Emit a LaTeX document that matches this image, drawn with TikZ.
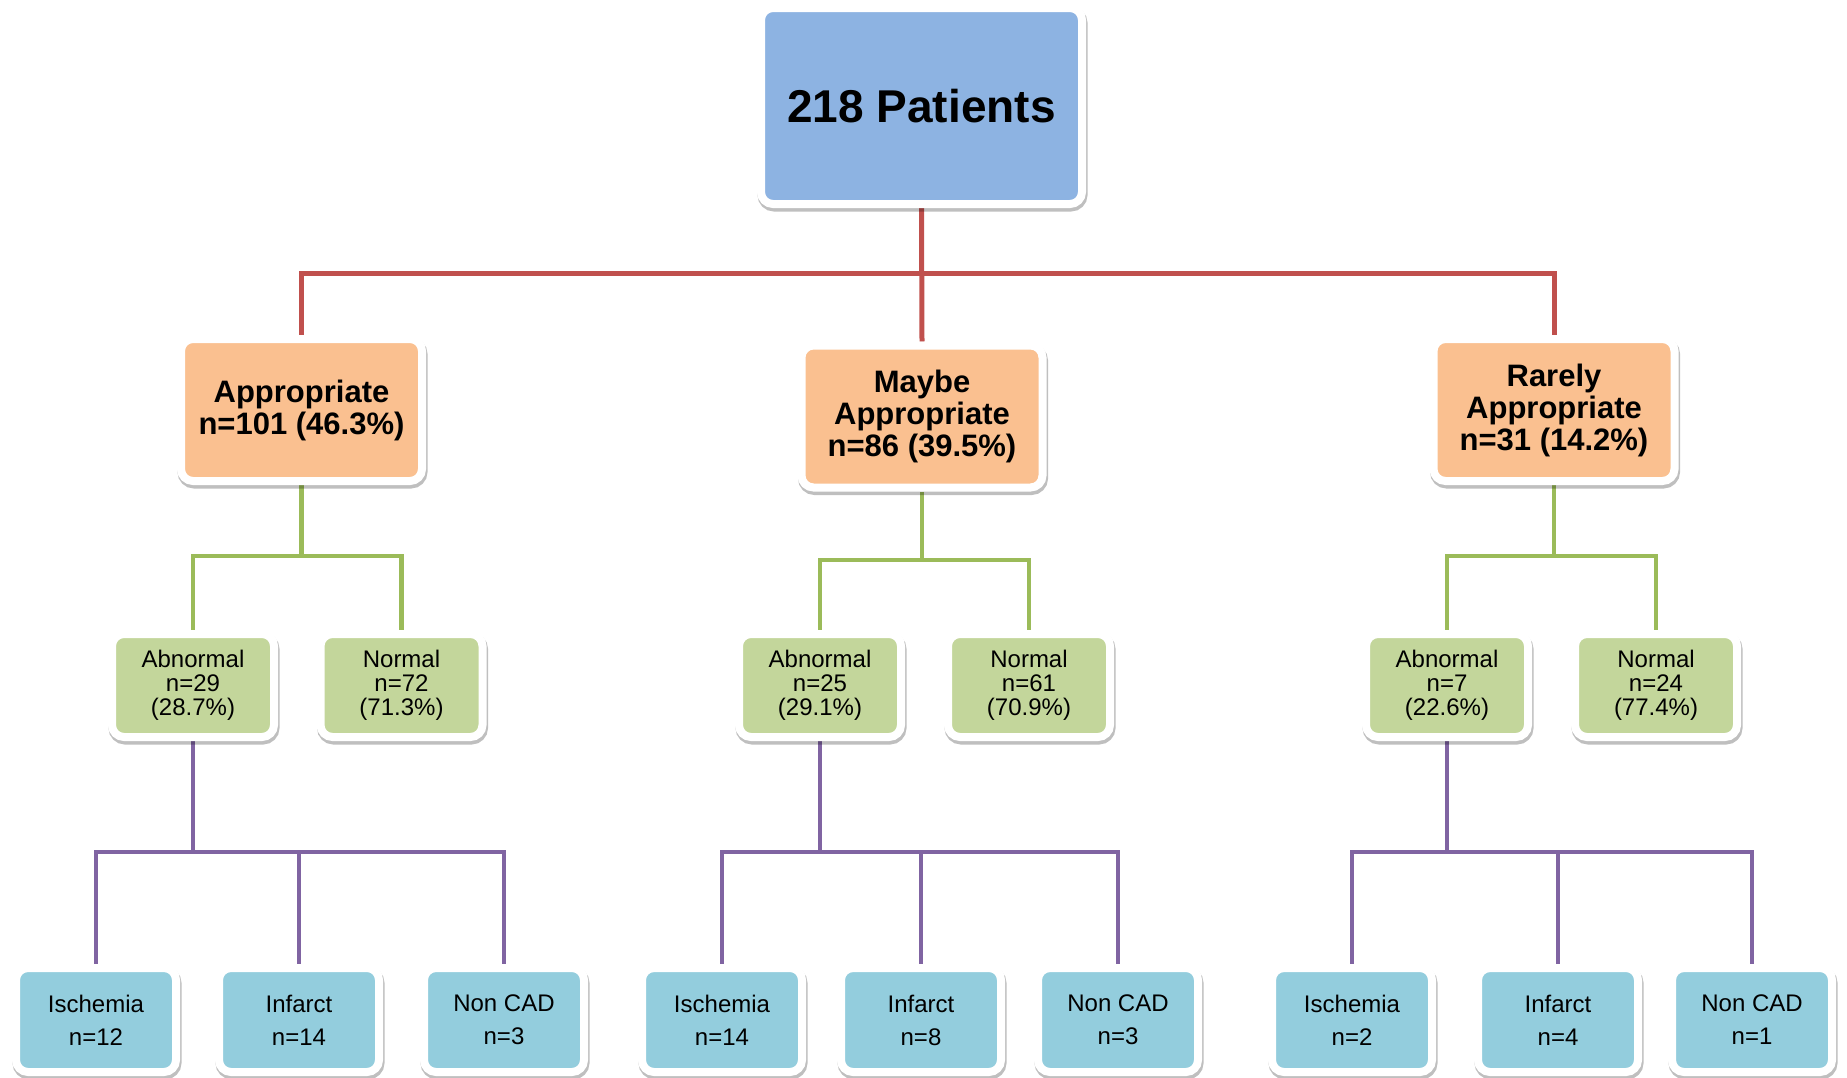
\documentclass[tikz,border=0pt]{standalone}
\usepackage{fontspec}
\setmainfont{Liberation Sans}
\usetikzlibrary{shadows,backgrounds}
\definecolor{topblue}{HTML}{8DB3E2}
\definecolor{orangefill}{HTML}{FAC090}
\definecolor{greenfill}{HTML}{C3D69B}
\definecolor{cyanfill}{HTML}{93CDDD}
\definecolor{redline}{HTML}{C0504D}
\definecolor{greenline}{HTML}{9BBB59}
\definecolor{purpleline}{HTML}{8064A2}
\begin{document}
\begin{tikzpicture}[x=1pt,y=-1pt,
  box/.style={rectangle, rounded corners=12pt, draw=white, line width=8pt,
    inner sep=0pt, align=center, text=black,
    drop shadow={shadow xshift=1pt, shadow yshift=-3pt, opacity=0.25,
      fill=black, draw=black, line width=9pt}},
  topbox/.style={box, fill=topblue, minimum width=321pt, minimum height=196pt,
    font=\fontsize{46pt}{50pt}\selectfont\bfseries},
  levtwo/.style={box, fill=orangefill, minimum width=241pt, minimum height=142pt,
    font=\fontsize{31pt}{32pt}\selectfont\bfseries},
  levthree/.style={box, fill=greenfill, minimum width=162pt, minimum height=103pt,
    font=\fontsize{24pt}{24pt}\selectfont},
  levfour/.style={box, fill=cyanfill, minimum width=160pt, minimum height=104pt,
    font=\fontsize{24pt}{33pt}\selectfont},
  conn/.style={line width=#1, line join=miter},
  rline/.style={conn=5pt, draw=redline},
  gline/.style={conn=4.5pt, draw=greenline},
  pline/.style={conn=4.5pt, draw=purpleline}]
\useasboundingbox (0,0) rectangle (1847,1077);

% nodes
\node[topbox] (top) at (921.5,106) {218 Patients};

\node[levtwo] (app) at (301.5,410) {Appropriate\\n=101 (46.3\%)};
\node[levtwo] (may) at (922,416.5) {Maybe\\Appropriate\\n=86 (39.5\%)};
\node[levtwo] (rar) at (1554,410) {Rarely\\Appropriate\\n=31 (14.2\%)};

\node[levthree] (aabn) at (193,685.5) {Abnormal\\n=29\\(28.7\%)};
\node[levthree] (anor) at (401.5,685.5) {Normal\\n=72\\(71.3\%)};
\node[levthree] (mabn) at (820,685.5) {Abnormal\\n=25\\(29.1\%)};
\node[levthree] (mnor) at (1029,685.5) {Normal\\n=61\\(70.9\%)};
\node[levthree] (rabn) at (1447,685.5) {Abnormal\\n=7\\(22.6\%)};
\node[levthree] (rnor) at (1656,685.5) {Normal\\n=24\\(77.4\%)};

\node[levfour] (ai) at (96,1020) {Ischemia\\n=12};
\node[levfour] (af) at (299,1020) {Infarct\\n=14};
\node[levfour] (an) at (504,1020) {Non CAD\\n=3};
\node[levfour] (mi) at (722,1020) {Ischemia\\n=14};
\node[levfour] (mf) at (921,1020) {Infarct\\n=8};
\node[levfour] (mn) at (1118,1020) {Non CAD\\n=3};
\node[levfour] (ri) at (1352,1020) {Ischemia\\n=2};
\node[levfour] (rf) at (1558,1020) {Infarct\\n=4};
\node[levfour] (rn) at (1752,1020) {Non CAD\\n=1};

\coordinate (busr) at (0,273);
\coordinate (busga) at (0,556);
\coordinate (busgm) at (0,560);
\coordinate (busgr) at (0,556);
\coordinate (busp) at (0,852);

\begin{scope}[on background layer]
% red
\draw[rline] (top.south) -- (may.north);
\draw[rline] (app.north) -- (app.north |- busr) -- (rar.north |- busr) -- (rar.north);
% green
\draw[gline] (app.south) -- (app.south |- busga);
\draw[gline] (aabn.north) -- (aabn.north |- busga) -- (anor.north |- busga) -- (anor.north);
\draw[gline] (may.south) -- (may.south |- busgm);
\draw[gline] (mabn.north) -- (mabn.north |- busgm) -- (mnor.north |- busgm) -- (mnor.north);
\draw[gline] (rar.south) -- (rar.south |- busgr);
\draw[gline] (rabn.north) -- (rabn.north |- busgr) -- (rnor.north |- busgr) -- (rnor.north);
% purple
\draw[pline] (aabn.south) -- (aabn.south |- busp);
\draw[pline] (ai.north) -- (ai.north |- busp) -- (an.north |- busp) -- (an.north);
\draw[pline] (af.north) -- (af.north |- busp);
\draw[pline] (mabn.south) -- (mabn.south |- busp);
\draw[pline] (mi.north) -- (mi.north |- busp) -- (mn.north |- busp) -- (mn.north);
\draw[pline] (mf.north) -- (mf.north |- busp);
\draw[pline] (rabn.south) -- (rabn.south |- busp);
\draw[pline] (ri.north) -- (ri.north |- busp) -- (rn.north |- busp) -- (rn.north);
\draw[pline] (rf.north) -- (rf.north |- busp);
\end{scope}
\end{tikzpicture}
\end{document}
